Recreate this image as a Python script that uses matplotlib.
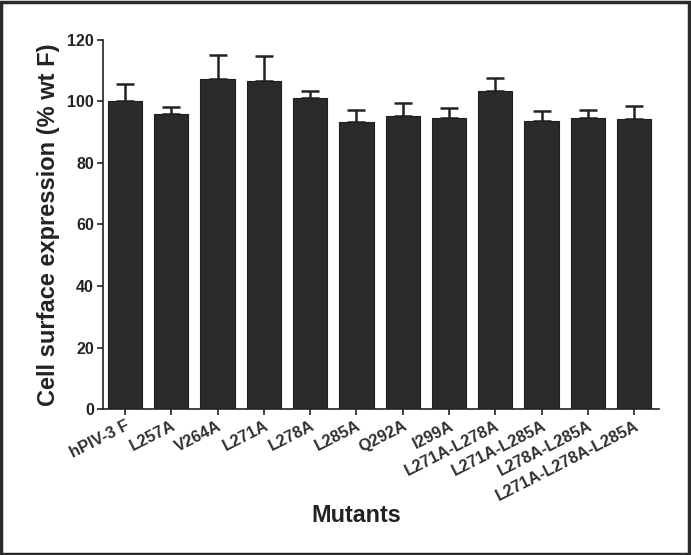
import numpy as np
import matplotlib
matplotlib.use("Agg")
import matplotlib.pyplot as plt
from matplotlib.patches import Rectangle

# --- Data ---
mutants = ["hPIV-3 F", "L257A", "V264A", "L271A", "L278A", "L285A", "Q292A",
           "I299A", "L271A-L278A", "L271A-L285A", "L278A-L285A",
           "L271A-L278A-L285A"]
expression = [100.3, 95.8, 107.2, 106.8, 101.1, 93.4, 95.2, 94.7, 103.5, 93.7, 94.5, 94.4]
upper_err = [5.5, 2.4, 7.8, 8.0, 2.3, 3.7, 4.2, 3.3, 4.1, 3.1, 2.8, 4.2]

plt.rcParams['font.family'] = ['Liberation Sans', 'DejaVu Sans']
ink = "#232323"

fig = plt.figure(figsize=(6.91, 5.55), dpi=100)
ax = fig.add_axes([0.149, 0.263, 0.805, 0.665])

x = np.arange(len(mutants))
ax.bar(x, expression, width=0.74, color="#2b2b2b", edgecolor="#1e1e1e", linewidth=0.8, zorder=2)
ax.errorbar(x, expression, yerr=[np.zeros(len(x)), upper_err], fmt="none",
            ecolor=ink, elinewidth=1.8, capsize=6.5, capthick=1.8, zorder=1)

ax.set_xlim(-0.475, 11.54)
ax.set_ylim(0, 120)
ax.set_yticks(np.arange(0, 121, 20))
ax.set_xticks(x)
ax.set_xticklabels(mutants, rotation=27, ha="right", rotation_mode="anchor",
                   fontsize=11.8, fontweight="bold", color="#303030")
for lbl in ax.get_yticklabels():
    lbl.set_fontweight("bold")
    lbl.set_fontsize(11.5)
    lbl.set_color(ink)

ax.spines["top"].set_visible(False)
ax.spines["right"].set_visible(False)
for s in ("left", "bottom"):
    ax.spines[s].set_linewidth(1.2)
    ax.spines[s].set_color(ink)
ax.tick_params(axis="both", direction="out", length=4.5, width=1.2, color=ink)
ax.tick_params(axis="y", pad=2)
ax.tick_params(axis="x", pad=2)

ax.set_ylabel("Cell surface expression (% wt F)", fontsize=17, fontweight="bold",
              color=ink, labelpad=5)
fig.text(0.515, 0.072, "Mutants", ha="center", va="center", fontsize=16.8,
         fontweight="bold", color=ink)

# Frame around the whole picture
fig.patches.append(Rectangle((0.0015, 0.002), 0.996, 0.995, transform=fig.transFigure,
                             fill=False, edgecolor="#2a2a2a", linewidth=2.5))

plt.savefig("out.png", dpi=100)
